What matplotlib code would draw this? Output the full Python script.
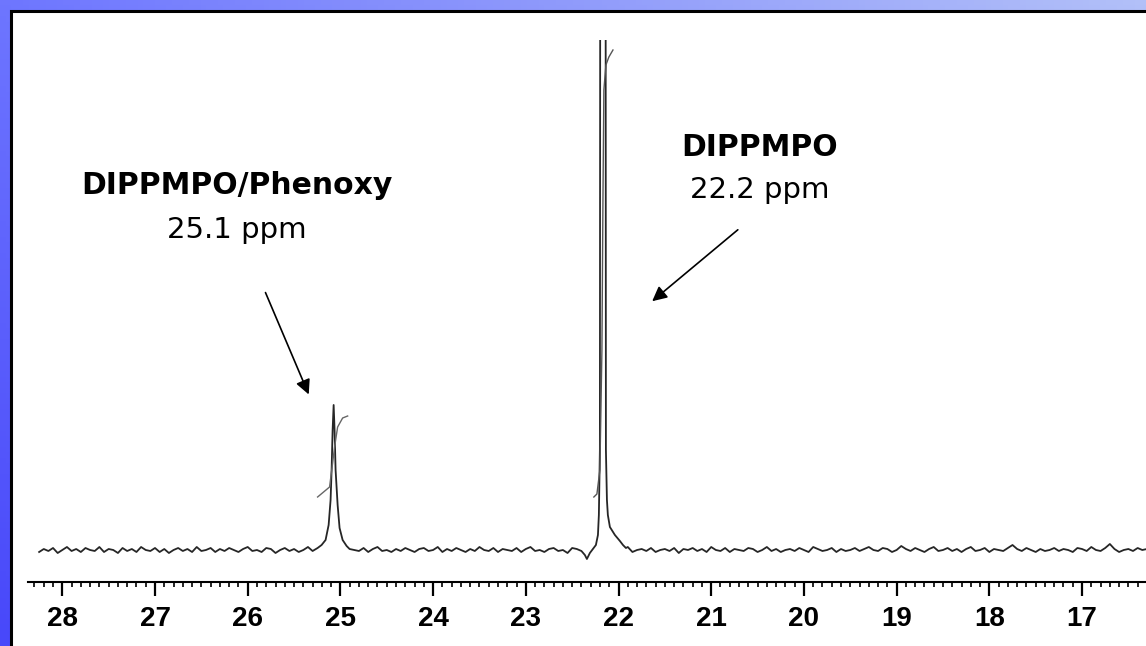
import numpy as np
import matplotlib
matplotlib.use("Agg")
import matplotlib.pyplot as plt
from matplotlib.colors import LinearSegmentedColormap
from matplotlib.patches import Rectangle

# baseline samples (ppm grid, noise)
baseline_ppm = np.round(np.linspace(28.25, 16.30, 240), 3)
baseline_noise = [
    -2, 1, -1, 2, -3, 0, 3, -1, 1, -2, 2, 0, -1, 3, -2, 1, 0, -3, 2, -1,
    1, -2, 3, 0, -1, 2, -2, 1, -3, 0, 2, -1, 1, -2, 3, -1, 0, 2, -2, 1,
    -1, 2, 0, -2, 1, 3, -1, 0, -2, 2, 1, -3, 0, 2, -1, 1, -2, 0, 3, -1,
    2, -1, 1, -2, 0, 2, -3, 1, 0, -1, 2, -2, 1, 3, -1, 0, -2, 1, -1, 2,
    0, -2, 1, 2, -1, 0, 3, -2, 1, -1, 2, 0, -2, 1, -1, 3, 0, -1, 2, -2,
    1, 0, -1, 2, -2, 1, 3, -1, 0, -2, 1, 2, -1, 0, -3, 2, 1, -1, 0, 2,
    -1, 1, -2, 0, 2, -1, 1, 3, -2, 0, 1, -1, 2, -2, 0, 1, -1, 2, -3, 1,
    0, 2, -1, 1, -2, 3, 0, -1, 2, -2, 1, 0, -1, 2, 1, -2, 0, 3, -1, 1,
    -2, 0, 1, -1, 2, 0, -2, 3, 1, -1, 0, 2, -2, 1, -1, 0, 2, -1, 1, 3,
    0, -1, 2, 1, -2, 0, 4, 1, -1, 2, 0, -2, 1, 3, -1, 0, 2, -1, 1, -2,
    1, 3, -1, 0, 2, -2, 1, 0, -1, 2, 5, 1, -1, 2, 0, -2, 1, -1, 0, 2,
    -1, 1, 0, -2, 2, 1, -1, 3, 0, -1, 2, 6, 1, -2, 0, 1, -1, 2, 0, 1,
]

# DIPPMPO/Phenoxy adduct peak
peak1_ppm = [25.246, 25.203, 25.160, 25.127, 25.106, 25.095, 25.084, 25.073,
             25.063, 25.052, 25.030, 25.009, 24.976, 24.933, 24.901]
peak1_int = [2, 5, 10, 25, 50, 80, 120, 145, 120, 80, 45, 22, 10, 4, 1]

# DIPPMPO peak (runs off the top)
peak2_ppm = [22.363, 22.341, 22.309, 22.276, 22.244, 22.222, 22.212, 22.201,
             22.195, 22.141, 22.136, 22.125, 22.115, 22.093, 22.060, 22.039,
             21.985, 21.952, 21.920]
peak2_int = [-5, -9, -3, 1, 5, 15, 35, 100, 900, 900, 100, 50, 35, 23, 18, 15,
             9, 5, 2]

# integral traces
integ1_ppm = [25.246, 25.117, 25.084, 25.063, 25.030, 24.976, 24.922]
integ1_int = [53, 63, 87, 103, 123, 132, 134]
integ2_ppm = [22.266, 22.233, 22.201, 22.179, 22.168, 22.158, 22.136, 22.104, 22.060]
integ2_int = [53, 56, 80, 200, 350, 460, 485, 493, 500]

major_ticks = list(range(17, 29))

# assemble spectrum
noise = np.array(baseline_noise, dtype=float)
keep = (baseline_ppm > 25.26) | ((baseline_ppm < 24.89) & (baseline_ppm > 22.37)) | (baseline_ppm < 21.91)
spec_ppm = np.concatenate([baseline_ppm[keep], peak1_ppm, peak2_ppm])
spec_int = np.concatenate([noise[keep], peak1_int, peak2_int])
order = np.argsort(-spec_ppm)
spec_ppm = spec_ppm[order]
spec_int = spec_int[order]

fig = plt.figure(figsize=(11.46, 6.46), dpi=100)

# blue slide background + white framed panel
bg = fig.add_axes([0, 0, 1, 1])
u = np.linspace(0, 1, 200)
v = np.linspace(0, 1, 120)
uu, vv = np.meshgrid(u, v)
grad = 0.5 * uu + 0.5 * vv
cmap = LinearSegmentedColormap.from_list("slide", ["#4848fa", "#6e76ff", "#b2c0f8"])
bg.imshow(grad, cmap=cmap, extent=[0, 1, 0, 1], origin="lower", aspect="auto")
bg.add_patch(Rectangle((11 / 1146, -0.05), 1.1, (646 - 11) / 646 + 0.05,
                       facecolor="white", edgecolor="black", lw=2.2))
bg.set_xlim(0, 1)
bg.set_ylim(0, 1)
bg.axis("off")

ax = fig.add_axes([28 / 1146, (646 - 582) / 646, (1146 - 28) / 1146, (582 - 40) / 646])
ax.patch.set_alpha(0)

ax.plot(spec_ppm, spec_int, color="#262626", lw=1.3)
ax.plot(integ1_ppm, integ1_int, color="#666666", lw=1.0)
ax.plot(integ2_ppm, integ2_int, color="#555555", lw=1.0)

ax.set_xlim(28.37, 16.31)
ax.set_ylim(-32, 510)

for side in ["top", "left", "right"]:
    ax.spines[side].set_visible(False)
ax.spines["bottom"].set_linewidth(1.5)
ax.set_yticks([])
ax.set_xticks(major_ticks)
ax.set_xticks(np.arange(16.4, 28.35, 0.1), minor=True)
ax.tick_params(axis="x", which="major", direction="out", length=10, width=1.6,
               pad=7, labelsize=20)
ax.tick_params(axis="x", which="minor", direction="out", length=3.5, width=1.2)
for lbl in ax.get_xticklabels():
    lbl.set_fontfamily("Liberation Sans")
    lbl.set_fontweight("bold")

# annotations
arrow = dict(arrowstyle="-|>", color="black", lw=1.2, mutation_scale=22)
ax.annotate("", xy=(25.33, 153), xytext=(25.82, 260), arrowprops=arrow)
ax.annotate("", xy=(21.66, 247), xytext=(20.69, 322), arrowprops=arrow)

ax.text(26.12, 365, "DIPPMPO/Phenoxy", ha="center", va="center",
        fontsize=21.5, fontweight="bold", family="DejaVu Sans")
ax.text(26.12, 320, "25.1 ppm", ha="center", va="center",
        fontsize=21, family="DejaVu Sans")
ax.text(20.48, 402, "DIPPMPO", ha="center", va="center",
        fontsize=21.5, fontweight="bold", family="DejaVu Sans")
ax.text(20.48, 360, "22.2 ppm", ha="center", va="center",
        fontsize=21, family="DejaVu Sans")

fig.savefig("out.png", dpi=100)
